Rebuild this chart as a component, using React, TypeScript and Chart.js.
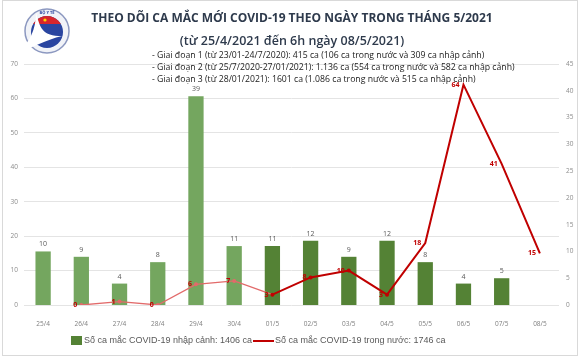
import React, { useEffect, useRef } from 'react';
import { Chart, registerables } from 'chart.js';

Chart.register(...registerables);

// ---- Data ----
const categories = ['25/4', '26/4', '27/4', '28/4', '29/4', '30/4', '01/5', '02/5', '03/5', '04/5', '05/5', '06/5', '07/5', '08/5'];
const importedCases = [10, 9, 4, 8, 39, 11, 11, 12, 9, 12, 8, 4, 5, null];
const domesticCases = [null, 0, 1, 0, 6, 7, 3, 8, 10, 3, 18, 64, 41, 15];
const leftAxisMax = 70;
const leftAxisStep = 10;
const rightAxisMax = 45;
const rightAxisStep = 5;

const titleText = 'THEO DÕI CA MẮC MỚI COVID-19 THEO NGÀY TRONG THÁNG 5/2021';
const subtitleText = '(từ 25/4/2021 đến 6h ngày 08/5/2021)';
const infoLines = [
  '- Giai đoạn 1 (từ 23/01-24/7/2020): 415 ca (106 ca trong nước và 309 ca nhập cảnh)',
  '- Giai đoạn 2 (từ 25/7/2020-27/01/2021): 1.136 ca (554 ca trong nước và 582 ca nhập cảnh)',
  '- Giai đoạn 3 (từ 28/01/2021): 1601 ca (1.086 ca trong nước và 515 ca nhập cảnh)',
];
const importedLabel = 'Số ca mắc COVID-19 nhập cảnh: 1406 ca';
const domesticLabel = 'Số ca mắc COVID-19 trong nước: 1746 ca';
const logoText = 'BỘ Y TẾ';

const W = 580;
const H = 357;
const LIGHT_GREEN = '#74a65f';
const DARK_GREEN = '#548235';
const LIGHT_RED = '#e26a6a';
const DARK_RED = '#c00000';
const FONT = '"Open Sans", "Noto Sans", sans-serif';
const LEGEND_FONT = '"Liberation Sans", Arial, sans-serif';

const overlay = {
  id: 'overlay',
  beforeDraw(chart: any) {
    const ctx = chart.ctx;
    ctx.save();
    ctx.fillStyle = '#ffffff';
    ctx.fillRect(0, 0, W, H);
    ctx.restore();
  },
  afterDatasetsDraw(chart: any) {
    const ctx = chart.ctx;
    ctx.save();
    // bar value labels
    const barMeta = chart.getDatasetMeta(1);
    ctx.font = `7px ${FONT}`;
    ctx.fillStyle = '#595959';
    ctx.textAlign = 'center';
    ctx.textBaseline = 'middle';
    barMeta.data.forEach((el: any, i: number) => {
      const v = importedCases[i];
      if (v === null || v === undefined) return;
      ctx.fillText(String(v), el.x, el.y - 7);
    });
    // line value labels
    const lineMeta = chart.getDatasetMeta(0);
    ctx.font = `bold 7px ${FONT}`;
    ctx.fillStyle = DARK_RED;
    ctx.textAlign = 'right';
    lineMeta.data.forEach((el: any, i: number) => {
      const v = domesticCases[i];
      if (v === null || v === undefined) return;
      ctx.fillText(String(v), el.x - 4, el.y);
    });
    ctx.restore();
  },
  afterDraw(chart: any) {
    const ctx = chart.ctx;
    ctx.save();
    // frame
    ctx.strokeStyle = '#d9d9d9';
    ctx.lineWidth = 1;
    ctx.strokeRect(2.5, 0.5, W - 5, H - 2);

    // logo
    const cx = 47, cy = 31, r = 22;
    ctx.beginPath();
    ctx.arc(cx, cy, r, 0, Math.PI * 2);
    ctx.fillStyle = '#f1f3f8';
    ctx.fill();
    ctx.strokeStyle = '#8c98c0';
    ctx.lineWidth = 1.5;
    ctx.stroke();
    ctx.save();
    ctx.beginPath();
    ctx.arc(cx, cy + 1, 16, 0, Math.PI * 2);
    ctx.clip();
    ctx.fillStyle = '#2a45a0';
    ctx.fillRect(cx - 20, cy - 20, 40, 40);
    ctx.fillStyle = '#d7262b';
    ctx.fillRect(cx - 20, cy - 20, 40, 13);
    ctx.restore();
    ctx.fillStyle = '#ffd200';
    ctx.beginPath();
    ctx.arc(cx - 2, cy - 11, 1.6, 0, Math.PI * 2);
    ctx.fill();
    ctx.fillStyle = '#ffffff';
    ctx.beginPath();
    ctx.moveTo(16, 55);
    ctx.bezierCurveTo(30, 42, 36, 30, 36, 12);
    ctx.bezierCurveTo(40, 28, 42, 36, 62, 36);
    ctx.bezierCurveTo(46, 40, 34, 46, 16, 55);
    ctx.fill();
    ctx.font = `bold 4px ${FONT}`;
    ctx.fillStyle = '#2a45a0';
    ctx.textAlign = 'center';
    ctx.textBaseline = 'middle';
    ctx.fillText(logoText, cx, cy - 18.5);

    // title
    ctx.fillStyle = '#2e3a4c';
    ctx.textAlign = 'center';
    ctx.textBaseline = 'middle';
    ctx.font = `bold 12px ${FONT}`;
    ctx.fillText(titleText, 292, 19);
    ctx.font = `600 12.5px ${FONT}`;
    ctx.fillText(subtitleText, 292, 41);

    // info lines
    ctx.font = `8.7px ${FONT}`;
    ctx.fillStyle = '#1a1a1a';
    ctx.textAlign = 'left';
    infoLines.forEach((t, i) => ctx.fillText(t, 152, 56 + i * 12));

    // legend
    ctx.font = `9px ${LEGEND_FONT}`;
    ctx.textBaseline = 'middle';
    ctx.fillStyle = DARK_GREEN;
    ctx.fillRect(71, 336, 11, 9);
    ctx.fillStyle = '#595959';
    ctx.fillText(importedLabel, 84, 341);
    ctx.strokeStyle = DARK_RED;
    ctx.lineWidth = 2;
    ctx.beginPath();
    ctx.moveTo(253, 341);
    ctx.lineTo(274, 341);
    ctx.stroke();
    ctx.fillText(domesticLabel, 275, 341);
    ctx.restore();
  },
};

export default function App() {
  const ref = useRef<HTMLCanvasElement | null>(null);
  useEffect(() => {
    document.body.style.margin = '0';
    const canvas = ref.current;
    if (!canvas) return;
    const chart = new Chart(canvas, {
      type: 'bar',
      data: {
        labels: categories,
        datasets: [
          {
            type: 'line',
            label: domesticLabel,
            data: domesticCases as any,
            yAxisID: 'y',
            order: 0,
            borderColor: DARK_RED,
            backgroundColor: DARK_RED,
            borderWidth: 2,
            tension: 0,
            pointRadius: domesticCases.map((_, i) => (i <= 9 ? 2 : 0)),
            pointBackgroundColor: domesticCases.map((_, i) => (i <= 5 ? LIGHT_RED : DARK_RED)),
            pointBorderWidth: 0,
            segment: {
              borderColor: (c: any) => (c.p0DataIndex >= 6 ? DARK_RED : LIGHT_RED),
              borderWidth: (c: any) => (c.p0DataIndex >= 6 ? 2 : 1.3),
            },
          } as any,
          {
            type: 'bar',
            label: importedLabel,
            data: importedCases as any,
            yAxisID: 'y1',
            order: 1,
            backgroundColor: importedCases.map((_, i) => (i <= 5 ? LIGHT_GREEN : DARK_GREEN)),
            categoryPercentage: 0.4,
            barPercentage: 1,
          } as any,
        ],
      },
      options: {
        responsive: false,
        maintainAspectRatio: false,
        animation: false,
        layout: { padding: { top: 64, left: 0, right: 0, bottom: 0 } },
        plugins: { legend: { display: false }, tooltip: { enabled: false }, title: { display: false } },
        scales: {
          x: {
            grid: { display: false },
            border: { display: false },
            ticks: { font: { size: 6.5, family: FONT }, color: '#7f7f7f', padding: 7, maxRotation: 0, autoSkip: false },
            afterFit: (s: any) => { s.height = 52; },
          },
          y: {
            position: 'left',
            min: 0,
            max: leftAxisMax,
            ticks: { stepSize: leftAxisStep, font: { size: 6.5, family: FONT }, color: '#8c8c8c', padding: 6 },
            grid: { color: '#e4e4e4', drawTicks: false, lineWidth: 1 },
            border: { display: false },
            afterFit: (s: any) => { s.width = 24; },
          },
          y1: {
            position: 'right',
            min: 0,
            max: rightAxisMax,
            ticks: { stepSize: rightAxisStep, font: { size: 6.5, family: FONT }, color: '#8c8c8c', padding: 7 },
            grid: { display: false, drawTicks: false },
            border: { display: false },
            afterFit: (s: any) => { s.width = 21; },
          },
        },
      },
      plugins: [overlay],
    });
    return () => chart.destroy();
  }, []);
  return (
    <div style={{ position: 'absolute', left: 0, top: 0, width: W, height: H }}>
      <canvas ref={ref} width={W} height={H} style={{ width: W, height: H, display: 'block' }} />
    </div>
  );
}
